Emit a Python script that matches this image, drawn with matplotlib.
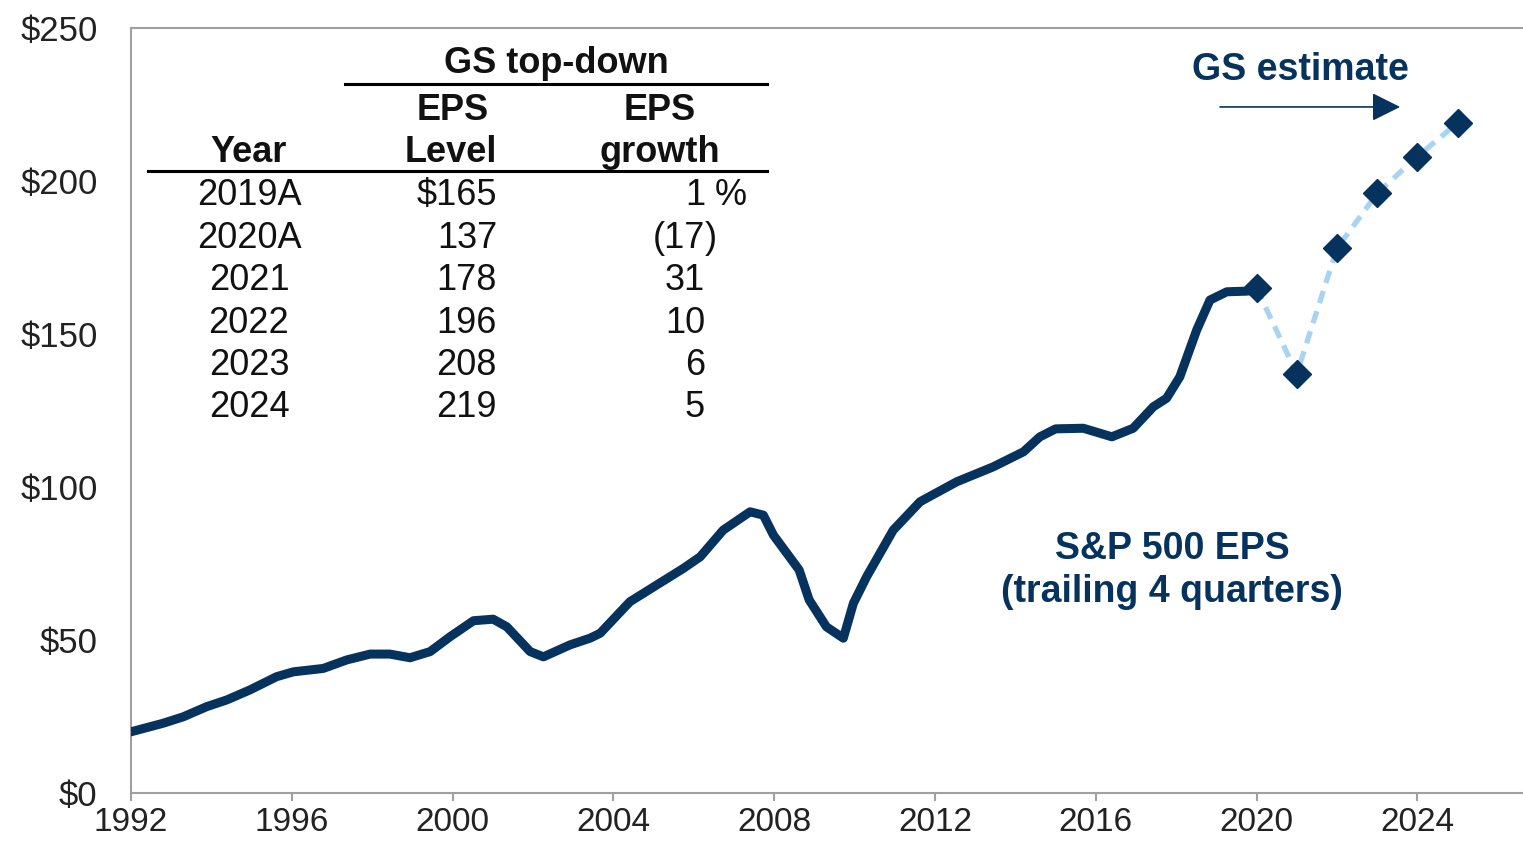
import matplotlib
matplotlib.use("Agg")
import matplotlib.pyplot as plt

plt.rcParams['font.family'] = ['Liberation Sans', 'DejaVu Sans']

# ---- data ----
hist_years = [1992.00, 1992.80, 1993.30, 1993.88, 1994.38, 1994.96, 1995.62, 1996.04,
              1996.78, 1997.37, 1997.95, 1998.44, 1998.94, 1999.44, 1999.94, 2000.52,
              2001.01, 2001.35, 2001.93, 2002.26, 2002.92, 2003.42, 2003.67, 2004.41,
              2005.08, 2005.74, 2006.16, 2006.73, 2007.40, 2007.73, 2007.98, 2008.62,
              2008.87, 2009.30, 2009.72, 2009.97, 2010.30, 2010.96, 2011.63, 2012.54,
              2013.45, 2014.20, 2014.61, 2015.00, 2015.69, 2016.40, 2016.93, 2017.43,
              2017.76, 2018.09, 2018.51, 2018.84, 2019.26, 2019.75, 2019.96]
hist_eps = [20.0, 22.8, 24.9, 28.2, 30.4, 33.7, 38.0, 39.6,
            40.7, 43.5, 45.4, 45.4, 44.2, 46.2, 51.1, 56.3,
            56.8, 54.3, 46.2, 44.5, 48.4, 50.6, 52.2, 62.5,
            68.0, 73.4, 77.2, 85.9, 91.9, 90.8, 84.3, 72.9,
            63.1, 54.3, 50.6, 62.0, 70.7, 85.9, 95.2, 101.7,
            106.6, 111.5, 116.4, 119.0, 119.2, 116.4, 119.2, 126.2,
            129.0, 136.0, 151.3, 161.1, 163.8, 164.0, 164.4]

est_x = [2020, 2021, 2022, 2023, 2024, 2025]
table_years = ["2019A", "2020A", "2021", "2022", "2023", "2024"]
table_levels = ["$165", "137", "178", "196", "208", "219"]
est_eps = [165, 137, 178, 196, 208, 219]
growth_main = ["1", "(17", "31", "10", "6", "5"]
growth_suffix = [" %", ")", "", "", "", ""]

y_ticks = [0, 50, 100, 150, 200, 250]
y_labels = ["$0", "$50", "$100", "$150", "$200", "$250"]
x_ticks = [1992, 1996, 2000, 2004, 2008, 2012, 2016, 2020, 2024]

NAVY = "#06335e"
LIGHT = "#a9d3f2"
GRAY = "#a0a0a0"

W, H = 1523, 841
fig = plt.figure(figsize=(W / 100, H / 100), dpi=100)
fig.patch.set_facecolor("white")

def fx(px):
    return px / W

def fy(py):
    return 1 - py / H

ax = fig.add_axes([fx(131), fy(793), 1 - fx(131), (793 - 28) / H])
ax.set_xlim(1992, 1992 + (W - 131) / 40.2)
ax.set_ylim(0, 250)

ax.plot(hist_years, hist_eps, color=NAVY, lw=6.5, solid_capstyle='round',
        solid_joinstyle='round', zorder=3)
ax.plot(est_x, est_eps, color=LIGHT, lw=3.8, dashes=(2.4, 1.6), zorder=2)
ax.plot(est_x, est_eps, linestyle='none', marker='D', markersize=14,
        color=NAVY, zorder=4)

for side in ['left', 'bottom', 'top']:
    ax.spines[side].set_color(GRAY)
    ax.spines[side].set_linewidth(1.5)
ax.spines['right'].set_visible(False)

ax.set_yticks(y_ticks)
ax.set_yticklabels(y_labels)
ax.set_xticks(x_ticks)
ax.set_xticklabels([str(x) for x in x_ticks])
ax.tick_params(axis='y', length=0, pad=24, labelsize=25, labelcolor="#222222")
ax.tick_params(axis='x', length=6, width=1.5, color=GRAY, pad=4,
               labelsize=24, labelcolor="#222222", direction='out')

# annotations
ax.text(2021.1, 236.3, "GS estimate", color=NAVY, fontsize=27,
        fontweight='bold', ha='center', va='center')
ax.annotate("", xy=(2023.57, 224.2), xytext=(2019.09, 224.2),
            arrowprops=dict(arrowstyle='-|>,head_length=0.8,head_width=0.4',
                            color=NAVY, lw=1.2, mutation_scale=22,
                            shrinkA=0, shrinkB=0))
ax.text(2017.9, 79.7, "S&P 500 EPS", color=NAVY, fontsize=27,
        fontweight='bold', ha='center', va='center')
ax.text(2017.9, 65.7, "(trailing 4 quarters)", color=NAVY, fontsize=27,
        fontweight='bold', ha='center', va='center')

# table
TXT = "#111111"
HFS = 26
RFS = 26
fig.text(fx(556), fy(73), "GS top-down", fontsize=HFS, fontweight='bold',
         ha='center', va='baseline', color=TXT)
fig.add_artist(plt.Line2D([fx(345), fx(767)], [fy(84), fy(84)], color="black", lw=2.2))
fig.text(fx(453), fy(120), "EPS", fontsize=HFS, fontweight='bold',
         ha='center', va='baseline', color=TXT)
fig.text(fx(660), fy(120), "EPS", fontsize=HFS, fontweight='bold',
         ha='center', va='baseline', color=TXT)
fig.text(fx(249), fy(162), "Year", fontsize=HFS, fontweight='bold',
         ha='center', va='baseline', color=TXT)
fig.text(fx(451), fy(162), "Level", fontsize=HFS, fontweight='bold',
         ha='center', va='baseline', color=TXT)
fig.text(fx(660), fy(162), "growth", fontsize=HFS, fontweight='bold',
         ha='center', va='baseline', color=TXT)
fig.add_artist(plt.Line2D([fx(148), fx(767)], [fy(171), fy(171)], color="black", lw=2.2))

row_base = [205, 248, 290, 333, 375, 417]
for i in range(len(table_years)):
    b = fy(row_base[i])
    fig.text(fx(249), b, table_years[i], fontsize=RFS, ha='center', va='baseline', color=TXT)
    fig.text(fx(497), b, table_levels[i], fontsize=RFS, ha='right', va='baseline', color=TXT)
    fig.text(fx(705), b, growth_main[i], fontsize=RFS, ha='right', va='baseline', color=TXT)
    if growth_suffix[i]:
        fig.text(fx(705), b, growth_suffix[i], fontsize=RFS, ha='left', va='baseline', color=TXT)

fig.savefig("out.png", dpi=100, facecolor="white")
